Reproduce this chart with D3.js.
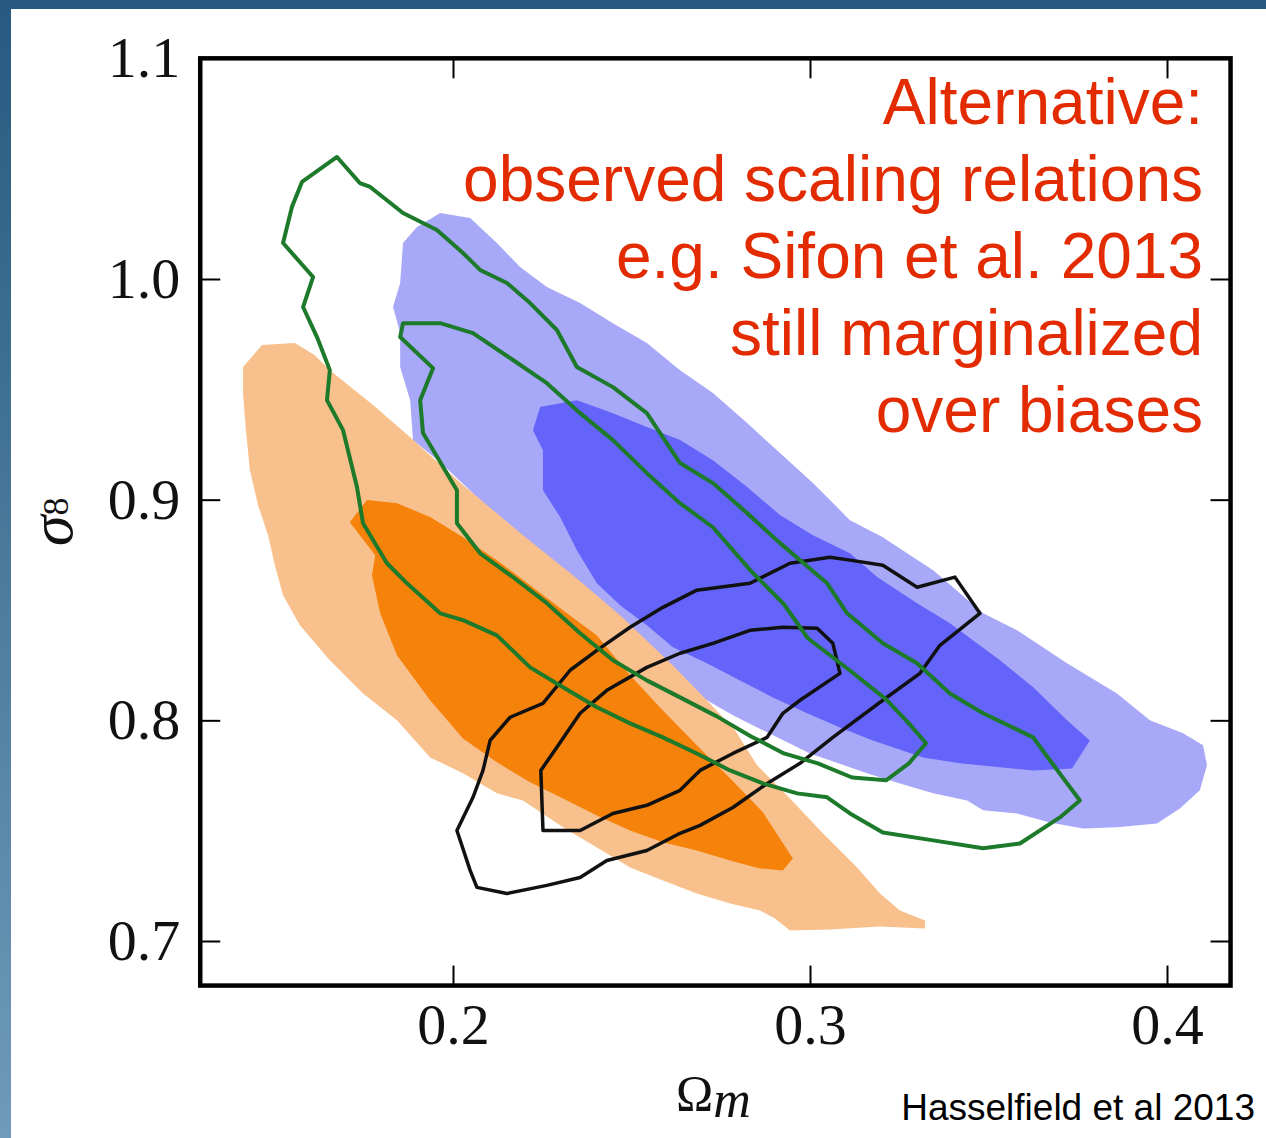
<!DOCTYPE html>
<html>
<head>
<meta charset="utf-8">
<script src="https://cdn.jsdelivr.net/npm/d3@7"></script>
<style>
  html, body { margin: 0; padding: 0; background: #fff; }
  svg { display: block; }
</style>
</head>
<body>
<svg id="chart" width="1266" height="1138"></svg>
<script>
// ---------------- DATA (Omega_m, sigma_8) ----------------
const xTicks = [0.2, 0.3, 0.4];
const yTicks = [0.7, 0.8, 0.9, 1.0, 1.1];
const xRange = [0.1292, 0.4178];
const yRange = [0.6798, 1.1];

// orange: light (outer) and dark (inner) filled regions
const orangeOuter = [[0.1412,0.9601],[0.1465,0.9701],[0.1557,0.9710],[0.1613,0.9655],[0.1655,0.9587],[0.1776,0.9429],[0.1880,0.9283],[0.2028,0.9066],[0.2196,0.8839],[0.2336,0.8658],[0.2468,0.8476],[0.2616,0.8249],[0.2711,0.8091],[0.2790,0.7955],[0.2852,0.7796],[0.2944,0.7646],[0.3036,0.7488],[0.3132,0.7333],[0.3196,0.7215],[0.3252,0.7138],[0.3322,0.7093],[0.3322,0.7057],[0.3196,0.7066],[0.3056,0.7052],[0.2944,0.7048],[0.2902,0.7102],[0.2860,0.7138],[0.2776,0.7170],[0.2683,0.7215],[0.2588,0.7274],[0.2496,0.7333],[0.2403,0.7424],[0.2308,0.7515],[0.2196,0.7637],[0.2123,0.7669],[0.2028,0.7760],[0.1936,0.7832],[0.1843,0.8000],[0.1748,0.8122],[0.1655,0.8272],[0.1571,0.8431],[0.1524,0.8567],[0.1501,0.8703],[0.1482,0.8839],[0.1454,0.8975],[0.1431,0.9134],[0.1420,0.9315],[0.1412,0.9474]];
const orangeInner = [[0.1711,0.8898],[0.1759,0.8998],[0.1843,0.8984],[0.1936,0.8921],[0.2028,0.8830],[0.2123,0.8726],[0.2216,0.8612],[0.2308,0.8499],[0.2403,0.8385],[0.2496,0.8204],[0.2588,0.8045],[0.2683,0.7887],[0.2776,0.7737],[0.2868,0.7583],[0.2952,0.7374],[0.2924,0.7320],[0.2860,0.7329],[0.2776,0.7365],[0.2683,0.7410],[0.2588,0.7447],[0.2496,0.7501],[0.2403,0.7569],[0.2308,0.7646],[0.2216,0.7719],[0.2123,0.7810],[0.2028,0.7918],[0.1936,0.8091],[0.1843,0.8295],[0.1796,0.8485],[0.1773,0.8658],[0.1782,0.8748]];

// blue: light (outer) and dark (inner) filled regions
const blueOuter = [[0.1860,1.0163],[0.1899,1.0236],[0.1964,1.0299],[0.2048,1.0277],[0.2123,1.0163],[0.2188,1.0054],[0.2263,0.9964],[0.2356,0.9891],[0.2448,0.9800],[0.2543,0.9710],[0.2636,0.9587],[0.2728,0.9483],[0.2824,0.9347],[0.2916,0.9211],[0.3008,0.9075],[0.3056,0.8998],[0.3112,0.8907],[0.3204,0.8830],[0.3272,0.8757],[0.3345,0.8680],[0.3485,0.8485],[0.3580,0.8408],[0.3720,0.8259],[0.3860,0.8122],[0.3952,0.8000],[0.4045,0.7941],[0.4101,0.7887],[0.4112,0.7796],[0.4092,0.7683],[0.4036,0.7601],[0.3972,0.7533],[0.3860,0.7515],[0.3765,0.7510],[0.3672,0.7537],[0.3580,0.7578],[0.3485,0.7592],[0.3440,0.7637],[0.3345,0.7669],[0.3252,0.7714],[0.3160,0.7760],[0.3000,0.7850],[0.2852,0.7968],[0.2784,0.8023],[0.2711,0.8091],[0.2616,0.8204],[0.2524,0.8331],[0.2431,0.8454],[0.2336,0.8599],[0.2196,0.8816],[0.2076,0.8998],[0.1964,0.9170],[0.1888,0.9270],[0.1880,0.9451],[0.1852,0.9601],[0.1852,0.9755],[0.1832,0.9873],[0.1852,0.9982]];
const blueInner = [[0.2224,0.9315],[0.2244,0.9420],[0.2347,0.9451],[0.2448,0.9392],[0.2543,0.9329],[0.2636,0.9270],[0.2728,0.9179],[0.2824,0.9057],[0.2916,0.8930],[0.3008,0.8839],[0.3112,0.8757],[0.3188,0.8649],[0.3300,0.8531],[0.3392,0.8440],[0.3532,0.8272],[0.3625,0.8150],[0.3720,0.8000],[0.3784,0.7909],[0.3734,0.7782],[0.3625,0.7773],[0.3532,0.7787],[0.3420,0.7805],[0.3317,0.7832],[0.3176,0.7909],[0.3084,0.7968],[0.2992,0.8032],[0.2896,0.8104],[0.2804,0.8181],[0.2711,0.8259],[0.2616,0.8331],[0.2543,0.8431],[0.2468,0.8522],[0.2403,0.8621],[0.2347,0.8771],[0.2300,0.8921],[0.2252,0.9043],[0.2252,0.9224]];

// green contours (outer and inner)
const greenOuter = [[0.1675,1.0553],[0.1739,1.0435],[0.1768,1.0417],[0.1860,1.0299],[0.1955,1.0222],[0.2028,1.0118],[0.2076,1.0041],[0.2151,0.9982],[0.2216,0.9891],[0.2291,0.9769],[0.2347,0.9601],[0.2448,0.9510],[0.2543,0.9392],[0.2636,0.9166],[0.2728,0.9075],[0.2824,0.8939],[0.2916,0.8803],[0.3048,0.8621],[0.3104,0.8485],[0.3204,0.8349],[0.3300,0.8259],[0.3392,0.8122],[0.3485,0.8032],[0.3625,0.7923],[0.3672,0.7819],[0.3756,0.7637],[0.3700,0.7560],[0.3588,0.7442],[0.3485,0.7420],[0.3345,0.7456],[0.3204,0.7492],[0.3112,0.7578],[0.3048,0.7651],[0.2964,0.7669],[0.2868,0.7714],[0.2776,0.7773],[0.2683,0.7850],[0.2588,0.7923],[0.2496,0.7986],[0.2403,0.8059],[0.2308,0.8150],[0.2216,0.8240],[0.2123,0.8385],[0.2028,0.8454],[0.1964,0.8485],[0.1871,0.8621],[0.1815,0.8712],[0.1748,0.8893],[0.1731,0.9057],[0.1692,0.9315],[0.1647,0.9451],[0.1655,0.9587],[0.1619,0.9737],[0.1580,0.9873],[0.1608,1.0009],[0.1524,1.0163],[0.1549,1.0327],[0.1577,1.0440]];
const greenInner = [[0.1860,0.9800],[0.1964,0.9800],[0.2056,0.9755],[0.2168,0.9633],[0.2263,0.9528],[0.2356,0.9392],[0.2448,0.9270],[0.2543,0.9120],[0.2636,0.8984],[0.2728,0.8875],[0.2835,0.8676],[0.2927,0.8526],[0.2994,0.8372],[0.3118,0.8218],[0.3213,0.8095],[0.3277,0.7986],[0.3325,0.7896],[0.3277,0.7805],[0.3213,0.7728],[0.3118,0.7741],[0.3022,0.7805],[0.2927,0.7850],[0.2835,0.7927],[0.2739,0.8018],[0.2636,0.8104],[0.2543,0.8181],[0.2448,0.8272],[0.2356,0.8395],[0.2263,0.8531],[0.2168,0.8649],[0.2076,0.8757],[0.2011,0.8893],[0.2011,0.9043],[0.1916,0.9302],[0.1908,0.9451],[0.1944,0.9596],[0.1852,0.9737]];

// black contours (outer and inner)
const blackOuter = [[0.2011,0.7501],[0.2056,0.7651],[0.2084,0.7773],[0.2104,0.7909],[0.2160,0.8014],[0.2252,0.8077],[0.2328,0.8227],[0.2403,0.8317],[0.2496,0.8422],[0.2588,0.8512],[0.2683,0.8590],[0.2832,0.8621],[0.2944,0.8712],[0.3056,0.8739],[0.3112,0.8726],[0.3204,0.8703],[0.3300,0.8603],[0.3406,0.8649],[0.3476,0.8485],[0.3364,0.8340],[0.3308,0.8213],[0.3204,0.8091],[0.3064,0.7923],[0.2972,0.7805],[0.2880,0.7714],[0.2784,0.7605],[0.2692,0.7524],[0.2636,0.7488],[0.2543,0.7410],[0.2431,0.7365],[0.2356,0.7288],[0.2263,0.7252],[0.2151,0.7215],[0.2067,0.7243],[0.2048,0.7320]];
const blackInner = [[0.2252,0.7501],[0.2246,0.7773],[0.2291,0.7878],[0.2356,0.8032],[0.2431,0.8136],[0.2543,0.8240],[0.2636,0.8304],[0.2728,0.8349],[0.2832,0.8408],[0.2924,0.8422],[0.3020,0.8417],[0.3064,0.8349],[0.3084,0.8213],[0.2972,0.8091],[0.2924,0.8032],[0.2880,0.7923],[0.2784,0.7850],[0.2692,0.7773],[0.2636,0.7683],[0.2543,0.7615],[0.2448,0.7578],[0.2356,0.7501]];

const noteLines = ["Alternative:", "observed scaling relations", "e.g. Sifon et al. 2013", "still marginalized", "over biases"];
const creditText = "Hasselfield et al 2013";

// ---------------- DRAWING ----------------
const svg = d3.select("#chart");

// slide background frame
const defs = svg.append("defs");
const grad = defs.append("linearGradient").attr("id", "sideGrad")
  .attr("x1", 0).attr("y1", 0).attr("x2", 0).attr("y2", 1);
grad.append("stop").attr("offset", "0%").attr("stop-color", "#265a80");
grad.append("stop").attr("offset", "100%").attr("stop-color", "#6e9bb9");
svg.append("rect").attr("x", 0).attr("y", 0).attr("width", 11).attr("height", 1138).attr("fill", "url(#sideGrad)");
svg.append("rect").attr("x", 0).attr("y", 0).attr("width", 1266).attr("height", 9).attr("fill", "#265a80");

const x = d3.scaleLinear().domain([0.2, 0.4]).range([453, 1167]);
const y = d3.scaleLinear().domain([0.7, 1.0]).range([941, 279]);

const line = d3.line().x(d => x(d[0])).y(d => y(d[1])).curve(d3.curveLinearClosed);

const plot = svg.append("g");
plot.append("path").attr("d", line(blueOuter)).attr("fill", "#a8a8f8");
plot.append("path").attr("d", line(blueInner)).attr("fill", "#6464fa");
plot.append("path").attr("d", line(orangeOuter)).attr("fill", "#f8c08c");
plot.append("path").attr("d", line(orangeInner)).attr("fill", "#f5820a");

plot.append("path").attr("d", line(blackOuter)).attr("fill", "none").attr("stroke", "#111").attr("stroke-width", 3.5).attr("stroke-linejoin", "round");
plot.append("path").attr("d", line(blackInner)).attr("fill", "none").attr("stroke", "#111").attr("stroke-width", 3.5).attr("stroke-linejoin", "round");
plot.append("path").attr("d", line(greenOuter)).attr("fill", "none").attr("stroke", "#1c7a2a").attr("stroke-width", 4).attr("stroke-linejoin", "round");
plot.append("path").attr("d", line(greenInner)).attr("fill", "none").attr("stroke", "#1c7a2a").attr("stroke-width", 4).attr("stroke-linejoin", "round");

// axes (inward ticks on all four sides)
const x0 = x(xRange[0]), x1 = x(xRange[1]), yb = y(yRange[0]), yt = y(yRange[1]);
const fmt = d3.format(".1f");
const tickFont = "'Liberation Serif', 'DejaVu Serif', serif";

const gBottom = svg.append("g").attr("transform", `translate(0,${yb})`)
  .call(d3.axisBottom(x).tickValues(xTicks).tickSize(-20).tickPadding(17).tickFormat(fmt));
const gTop = svg.append("g").attr("transform", `translate(0,${yt})`)
  .call(d3.axisTop(x).tickValues(xTicks).tickSize(-20).tickFormat(""));
const gLeft = svg.append("g").attr("transform", `translate(${x0},0)`)
  .call(d3.axisLeft(y).tickValues(yTicks).tickSize(-20).tickPadding(20).tickFormat(fmt));
const gRight = svg.append("g").attr("transform", `translate(${x1},0)`)
  .call(d3.axisRight(y).tickValues(yTicks).tickSize(-20).tickFormat(""));

[gBottom, gTop, gLeft, gRight].forEach(g => {
  g.select(".domain").remove();
  g.selectAll(".tick line").attr("stroke", "#000").attr("stroke-width", 2);
  g.selectAll(".tick text").attr("font-family", tickFont).attr("font-size", 58).attr("fill", "#111");
});

svg.append("rect").attr("x", x0).attr("y", yt).attr("width", x1 - x0).attr("height", yb - yt)
  .attr("fill", "none").attr("stroke", "#000").attr("stroke-width", 4.5);

// axis labels
const xl = svg.append("text").attr("x", 676).attr("y", 1110)
  .attr("font-family", tickFont).attr("font-size", 50).attr("fill", "#111");
xl.append("tspan").text("Ω");
xl.append("tspan").attr("font-style", "italic").attr("font-size", 52).attr("dy", 7).text("m");

const yl = svg.append("text").attr("transform", "translate(72,546) rotate(-90)")
  .attr("font-family", tickFont).attr("font-size", 62).attr("fill", "#111");
yl.append("tspan").attr("font-style", "italic").text("σ");
yl.append("tspan").attr("font-size", 36).attr("dy", -4).text("8");

// annotation
svg.append("g").selectAll("text").data(noteLines).join("text")
  .attr("x", 1203).attr("y", (d, i) => 124 + i * 77)
  .attr("text-anchor", "end")
  .attr("font-family", "'Liberation Sans', Arial, Helvetica, sans-serif")
  .attr("font-size", 64).attr("fill", "#e32b02")
  .text(d => d);

svg.append("text").attr("x", 1255).attr("y", 1120).attr("text-anchor", "end")
  .attr("font-family", "'Liberation Sans', Arial, Helvetica, sans-serif")
  .attr("font-size", 37).attr("fill", "#000").text(creditText);
</script>
</body>
</html>
